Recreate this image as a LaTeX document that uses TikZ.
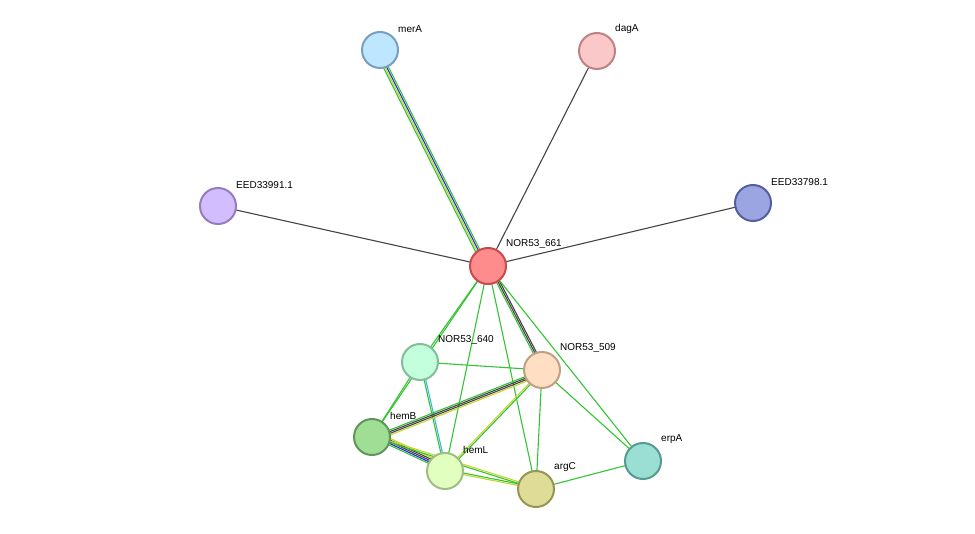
\documentclass[tikz,border=0pt]{standalone}
\usepackage{fontspec}
\setmainfont{Liberation Sans}
\usetikzlibrary{calc}
\definecolor{eg}{HTML}{33C433}
\definecolor{ey}{HTML}{C8D42A}
\definecolor{ek}{HTML}{444444}
\definecolor{eb}{HTML}{2A2AE0}
\definecolor{ec}{HTML}{3AB8E0}
\tikzset{prot/.style={circle,minimum size=36pt,inner sep=0pt,line width=2pt},
lab/.style={font=\fontsize{10pt}{11pt}\selectfont,anchor=south west,inner sep=0pt}}
\newcommand\medge[3]{\foreach \c [count=\i] in {#3}{\pgfmathsetmacro\off{(\i-1)*1.6}
\draw[\c,line width=1.1pt] ($(#1)!\off pt!90:(#2)$) -- ($(#2)!\off pt!-90:(#1)$);}}
\begin{document}
\begin{tikzpicture}[x=1pt,y=-1pt]
\useasboundingbox (0,0) rectangle (975,534);
\coordinate (c661) at (488,266);
\coordinate (cmerA) at (380,50);
\coordinate (cdagA) at (597,51);
\coordinate (c991) at (218,206);
\coordinate (c798) at (753,203);
\coordinate (c640) at (420,362);
\coordinate (c509) at (542,370);
\coordinate (chemB) at (372,437);
\coordinate (chemL) at (445,471);
\coordinate (cargC) at (536,489);
\coordinate (cerpA) at (643,461);
\medge{c661}{cmerA}{eg,eb,ey,eg}
\medge{c661}{cdagA}{ek}
\medge{c661}{c991}{ek}
\medge{c661}{c798}{ek}
\medge{c661}{c640}{eg}
\medge{c661}{chemB}{eg}
\medge{c661}{c509}{eg,ek,ek}
\medge{c661}{chemL}{eg}
\medge{c661}{cargC}{eg}
\medge{c661}{cerpA}{eg}
\medge{c640}{c509}{eg}
\medge{c640}{chemB}{eg}
\medge{c640}{chemL}{eg,ec}
\medge{c509}{chemB}{eg,ek,ek,ey}
\medge{c509}{chemL}{ey,eg}
\medge{c509}{cargC}{eg}
\medge{c509}{cerpA}{eg}
\medge{chemB}{chemL}{eg,eb,ek,ek,ey}
\medge{chemB}{cargC}{eg,ey}
\medge{chemL}{cargC}{ey,eg}
\medge{cargC}{cerpA}{eg}
\node[prot,fill={rgb,255:red,255;green,140;blue,140},draw={rgb,255:red,200;green,75;blue,75}] (n661) at (c661) {};
\node[prot,fill={rgb,255:red,190;green,230;blue,255},draw={rgb,255:red,120;green,160;blue,190}] (merA) at (cmerA) {};
\node[prot,fill={rgb,255:red,250;green,200;blue,200},draw={rgb,255:red,190;green,130;blue,130}] (dagA) at (cdagA) {};
\node[prot,fill={rgb,255:red,210;green,190;blue,255},draw={rgb,255:red,150;green,125;blue,190}] (n991) at (c991) {};
\node[prot,fill={rgb,255:red,155;green,165;blue,225},draw={rgb,255:red,85;green,95;blue,160}] (n798) at (c798) {};
\node[prot,fill={rgb,255:red,195;green,255;blue,220},draw={rgb,255:red,130;green,190;blue,150}] (n640) at (c640) {};
\node[prot,fill={rgb,255:red,255;green,222;blue,195},draw={rgb,255:red,190;green,160;blue,130}] (n509) at (c509) {};
\node[prot,fill={rgb,255:red,160;green,222;blue,150},draw={rgb,255:red,95;green,150;blue,90}] (hemB) at (chemB) {};
\node[prot,fill={rgb,255:red,225;green,255;blue,190},draw={rgb,255:red,160;green,190;blue,130}] (hemL) at (chemL) {};
\node[prot,fill={rgb,255:red,222;green,220;blue,150},draw={rgb,255:red,150;green,150;blue,85}] (argC) at (cargC) {};
\node[prot,fill={rgb,255:red,155;green,222;blue,212},draw={rgb,255:red,85;green,155;blue,145}] (erpA) at (cerpA) {};
\node[lab] at (506,249) {NOR53\_661};
\node[lab] at (398,33) {merA};
\node[lab] at (615,34) {dagA};
\node[lab] at (236,189) {EED33991.1};
\node[lab] at (771,186) {EED33798.1};
\node[lab] at (438,345) {NOR53\_640};
\node[lab] at (560,353) {NOR53\_509};
\node[lab] at (390,420) {hemB};
\node[lab] at (463,454) {hemL};
\node[lab] at (554,472) {argC};
\node[lab] at (661,444) {erpA};
\end{tikzpicture}
\end{document}
